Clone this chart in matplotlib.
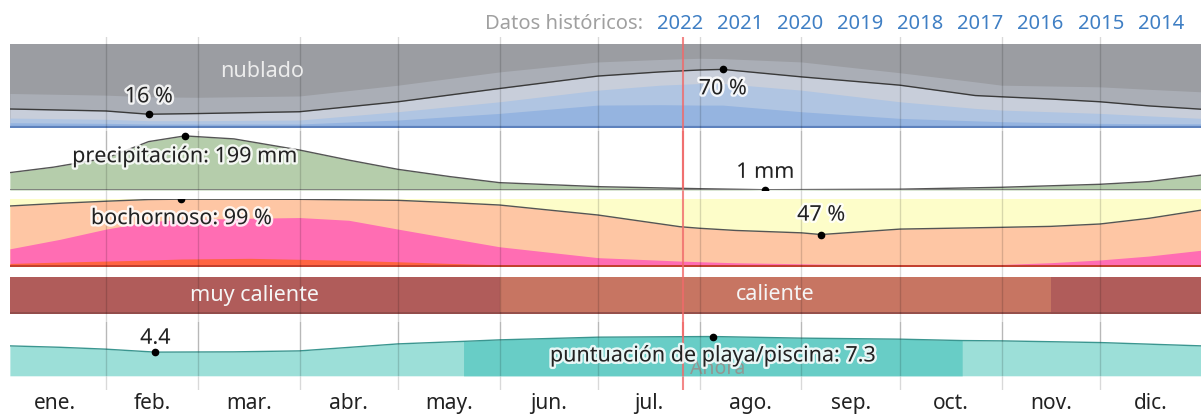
import numpy as np
import matplotlib
matplotlib.use("Agg")
from matplotlib import pyplot as plt
from matplotlib import patheffects as pe

plt.rcParams['font.family'] = ['Noto Sans', 'DejaVu Sans']

W, H = 1201, 416

months = ["ene.", "feb.", "mar.", "abr.", "may.", "jun.", "jul.", "ago.", "sep.", "oct.", "nov.", "dic."]
month_starts = [0, 31, 59, 90, 120, 151, 181, 212, 243, 273, 304, 334, 365]
years = [2022, 2021, 2020, 2019, 2018, 2017, 2016, 2015, 2014]
now_day = 206.8

# nubes: limites acumulados desde abajo (%)
cloud_days = [1.7, 31, 44, 59, 90, 120, 151, 181, 200, 212, 219, 243, 273, 296, 304, 319, 334, 349, 365]
cloud_clear = [5.8, 5.0, 4.2, 4.2, 4.2, 9, 17, 27, 27.5, 27, 27, 19, 11, 8, 7, 6, 5, 4.5, 4.5]
cloud_mostly_clear = [11.4, 9.9, 8.2, 8.2, 9, 19, 31, 45, 51, 53, 53, 45, 31, 23, 21, 19, 17, 14, 11]
cloud_partly = [22.3, 19.9, 16, 16.8, 19, 31, 47, 62, 67, 69.3, 70, 61, 51, 38.5, 37, 34.3, 31, 26, 22]
cloud_mostly_cloudy = [41, 39, 37, 36.4, 38, 51, 67, 79, 82, 83.4, 83, 79, 66, 55, 51, 50, 49, 46, 43]

# precipitacion (mm)
precip_days = [1.7, 15, 31, 44, 55, 70, 90, 105, 120, 136, 151, 182, 212, 232, 243, 273, 304, 334, 349, 365]
precip_mm = [64, 84, 117, 178, 199, 188, 147, 110, 76, 49, 27, 12, 4.8, 1, 1.5, 3, 10, 21, 31, 55]

# humedad: limites acumulados desde abajo (%)
hum_days = [1.7, 17, 31, 44, 54, 75, 90, 105, 120, 136, 151, 181, 206, 212, 223, 243, 249, 273, 304, 319, 334, 349, 365]
hum_muggy = [89, 93, 96, 98.5, 99, 98.9, 98.8, 98, 97.3, 94, 90.4, 75.7, 58.5, 56.2, 53, 49.5, 47, 55, 57.6, 59, 62.5, 70.9, 83]
hum_oppressive = [26, 40, 55, 66, 69, 71, 72, 68, 55, 41.5, 29, 13, 8, 7, 5.5, 4, 3.5, 2.5, 3, 5.6, 9.6, 15.4, 24]
hum_miserable = [4.5, 6.5, 8, 9.5, 11, 12, 10.6, 9, 7, 4.5, 2.5, 0.8, 0.5, 0.5, 0.5, 0.4, 0.4, 0.4, 0.4, 0.5, 0.6, 1.2, 3]

# temperatura
temp_bounds = [1.7, 151, 319, 365]
temp_cats = ["muy caliente", "caliente", "muy caliente"]

# puntuacion de playa/piscina
beach_days = [1.7, 17, 31, 46, 70, 90, 120, 140, 151, 181, 216, 243, 273, 292, 304, 334, 365]
beach_score = [5.56, 5.3, 4.95, 4.4, 4.45, 4.63, 5.93, 6.4, 6.68, 7.18, 7.3, 7.0, 6.81, 6.55, 6.49, 6.18, 5.56]
beach_best = (140, 292)

XLIM = (1.74, 364.8)
halo = [pe.withStroke(linewidth=3.5, foreground="white", alpha=0.85)]
TXT = "#222222"
FS = 15.5


def box(top, bottom, left=10, right=1201):
    return [left / W, 1 - bottom / H, (right - left) / W, (bottom - top) / H]


def band(fig, top, bottom, ylim, z):
    ax = fig.add_axes(box(top, bottom), zorder=z)
    ax.set_xlim(*XLIM)
    ax.set_ylim(*ylim)
    ax.set_facecolor("none")
    ax.axis("off")
    return ax


def grid(ax):
    for d in month_starts[1:-1]:
        ax.axvline(d, color="black", alpha=0.15, lw=1, zorder=3)
    ax.axvline(now_day, color="#f06a6a", alpha=0.8, lw=1.5, zorder=3.5)


def mark(ax, x, y, text, dy, **kw):
    ax.plot([x], [y], "o", color="black", ms=4.5, zorder=6)
    ax.annotate(text, (x, y), xytext=(0, dy), textcoords="offset points",
                ha="center", va="center", fontsize=FS, color=TXT,
                path_effects=halo, zorder=7, **kw)


fig = plt.figure(figsize=(W / 100, H / 100), dpi=100)

# fondo con rejilla y meses
bg = fig.add_axes(box(37, 390), zorder=0)
bg.set_xlim(*XLIM)
bg.set_ylim(0, 1)
for s in bg.spines.values():
    s.set_visible(False)
bg.set_yticks([])
mids = [(a + b) / 2 for a, b in zip(month_starts[:-1], month_starts[1:])]
bg.set_xticks(mids, labels=months)
bg.tick_params(axis="x", length=0, pad=2, labelsize=15, labelcolor=TXT)
grid(bg)

# cabecera
fig.text(643 / W, 1 - 24 / H, "Datos históricos:", ha="right", va="center",
         fontsize=14.5, color="#a0a0a0")
for i, yr in enumerate(years):
    fig.text((680 + 60.1 * i) / W, 1 - 24 / H, str(yr), ha="center", va="center",
             fontsize=14.5, color="#3f7fc4")

# nubes
ax = band(fig, 44.5, 127.5, (0, 100), 1)
cd = np.array(cloud_days)
ax.fill_between(cd, 0, 100, color="#9b9da2", lw=0)
ax.fill_between(cd, 0, cloud_mostly_cloudy, color="#aaaeb6", lw=0)
ax.fill_between(cd, 0, cloud_partly, color="#c8ceda", lw=0)
ax.fill_between(cd, 0, cloud_mostly_clear, color="#b0c5e2", lw=0)
ax.fill_between(cd, 0, cloud_clear, color="#95b4e0", lw=0)
ax.plot(cd, cloud_partly, color="#3a3a3a", lw=1, zorder=2)
ax.axhline(0.8, color="#5e82bd", lw=1.6, zorder=2)
grid(ax)
ax.text(78.5, 67, "nublado", ha="center", va="center", fontsize=FS, color="#ececec", zorder=5)
i0, i1 = int(np.argmin(cloud_partly)), int(np.argmax(cloud_partly))
mark(ax, cloud_days[i0], cloud_partly[i0], f"{cloud_partly[i0]:.0f} %", 12.5)
mark(ax, cloud_days[i1], cloud_partly[i1], f"{cloud_partly[i1]:.0f} %", -14)

# precipitacion
ax = band(fig, 131, 190, (0, 217), 2)
ax.fill_between(precip_days, 0, precip_mm, color="#b5cdab", lw=0)
ax.plot(precip_days, precip_mm, color="#555555", lw=1, zorder=2)
ax.axhline(0, color="#777777", lw=1.2, zorder=2)
grid(ax)
i0, i1 = int(np.argmin(precip_mm)), int(np.argmax(precip_mm))
mark(ax, precip_days[i1], precip_mm[i1], f"precipitación: {precip_mm[i1]:.0f} mm", -15)
mark(ax, precip_days[i0], precip_mm[i0], f"{precip_mm[i0]:.0f} mm", 12.5)

# humedad
ax = band(fig, 198.5, 266.5, (0, 100), 3)
ax.fill_between(hum_days, 0, 100, color="#dcefe8", lw=0)
ax.fill_between(hum_days, 0, 98.8, color="#fdfdc9", lw=0)
ax.fill_between(hum_days, 0, hum_muggy, color="#fec6a4", lw=0)
ax.fill_between(hum_days, 0, hum_oppressive, color="#ff6db3", lw=0)
ax.fill_between(hum_days, 0, hum_miserable, color="#ff6442", lw=0)
ax.plot(hum_days, hum_muggy, color="#555555", lw=1, zorder=2)
ax.axhline(0.5, color="#c2402e", lw=1.4, zorder=2)
grid(ax)
i0, i1 = int(np.argmin(hum_muggy)), int(np.argmax(hum_muggy))
mark(ax, hum_days[i1], hum_muggy[i1], f"bochornoso: {hum_muggy[i1]:.0f} %", -14)
mark(ax, hum_days[i0], hum_muggy[i0], f"{hum_muggy[i0]:.0f} %", 14)

# temperatura
ax = band(fig, 276.5, 313.5, (0, 1), 4)
temp_colors = {"muy caliente": "#b05c5a", "caliente": "#c77562"}
shown = set()
for a, b, cat in zip(temp_bounds[:-1], temp_bounds[1:], temp_cats):
    ax.axvspan(a, b, color=temp_colors[cat], lw=0)
    if cat not in shown:
        ax.text((a + b) / 2, 0.5, cat, ha="center", va="center", fontsize=FS,
                color="#f5f5f5", zorder=5)
        shown.add(cat)
ax.axhline(0.02, color="#8c4a48", lw=1.2, zorder=2)
grid(ax)

# playa/piscina
ax = band(fig, 322, 375.8, (0, 10), 5)
bd = np.array(beach_days)
ax.fill_between(bd, 0, beach_score, color="#9cdfd8", lw=0)
ax.fill_between(bd, 0, beach_score, where=(bd >= beach_best[0]) & (bd <= beach_best[1]),
                color="#68cdc6", lw=0)
ax.plot(bd, beach_score, color="#3b9690", lw=1, zorder=2)
grid(ax)
ax.text(now_day + 2.3, 1.2, "Ahora", ha="left", va="center", fontsize=14,
        color="#d04545", alpha=0.4, zorder=4)
i0, i1 = int(np.argmin(beach_score)), int(np.argmax(beach_score))
mark(ax, beach_days[i0], beach_score[i0], f"{beach_score[i0]:.1f}", 10)
mark(ax, beach_days[i1], beach_score[i1], f"puntuación de playa/piscina: {beach_score[i1]:.1f}", -14)

fig.savefig("out.png", dpi=100)
